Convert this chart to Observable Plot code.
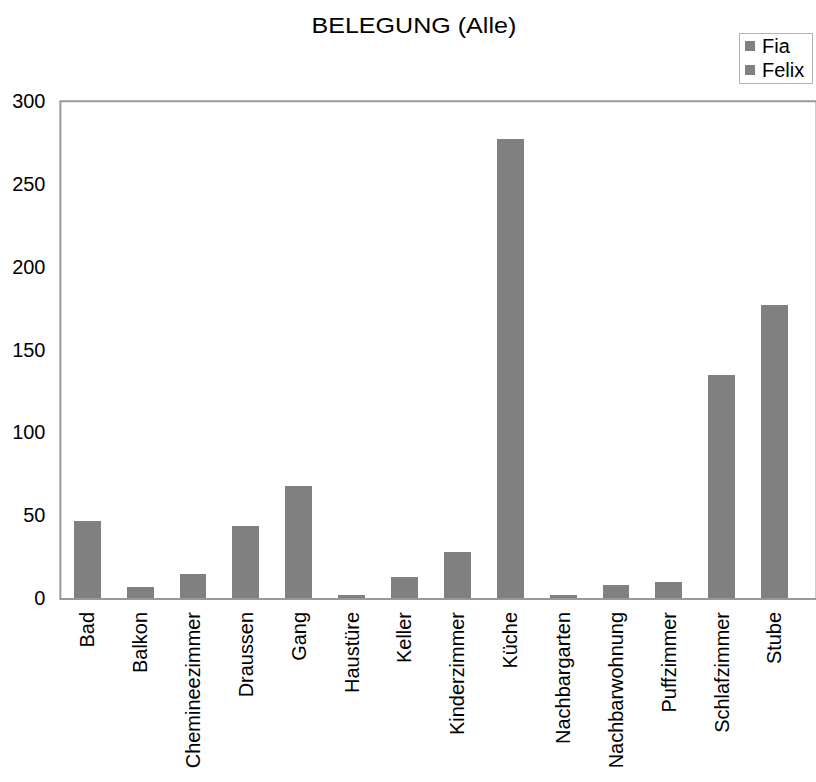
<!DOCTYPE html>
<html>
<head>
<meta charset="utf-8">
<script src="https://cdn.jsdelivr.net/npm/d3@7"></script>
<script src="https://cdn.jsdelivr.net/npm/@observablehq/plot@0.6"></script>
<style>
  html, body { margin: 0; padding: 0; background: #fff; overflow: hidden; }
  #wrap { position: relative; width: 816px; height: 782px; overflow: hidden; font-family: "Liberation Sans", Arial, sans-serif; }
  #title { position: absolute; left: 0; width: 828px; top: 13px; text-align: center; font-size: 22px; color: #000; }
  #title span { display: inline-block; transform: scaleX(1.14); }
  #legend { position: absolute; left: 739px; top: 33px; width: 74px; height: 51px; border: 1px solid #b4b4b4; background: #fff; box-sizing: border-box; }
  .item { position: absolute; left: 5px; font-size: 20px; line-height: 22px; color: #000; white-space: nowrap; }
  .sw { display: inline-block; width: 10px; height: 10px; background: #808080; margin-right: 7px; vertical-align: 2px; }
  #chart { position: absolute; left: 0; top: 0; }
</style>
</head>
<body>
<div id="wrap">
  <div id="chart"></div>
  <div id="title"><span>BELEGUNG (Alle)</span></div>
  <div id="legend"></div>
</div>
<script>
// Rooms and the counts per person (stacked: Fia below, Felix on top)
const rooms = ["Bad", "Balkon", "Chemineezimmer", "Draussen", "Gang", "Haustüre", "Keller",
  "Kinderzimmer", "Küche", "Nachbargarten", "Nachbarwohnung", "Puffzimmer", "Schlafzimmer", "Stube"];
const fia   = [11, 2, 5,  9, 22, 1, 4,  6, 137, 1, 3, 4, 70, 59];
const felix = [36, 5, 10, 35, 46, 1, 9, 22, 140, 1, 5, 6, 65, 118];
const seriesNames = ["Fia", "Felix"];
const yTicks = [0, 50, 100, 150, 200, 250, 300];

const rows = [];
rooms.forEach((room, i) => {
  rows.push({room, person: seriesNames[0], value: fia[i]});
  rows.push({room, person: seriesNames[1], value: felix[i]});
});

const chart = Plot.plot({
  width: 818,
  height: 782,
  marginLeft: 60,
  marginRight: 0,
  marginTop: 101,
  marginBottom: 182,
  style: {fontFamily: "'Liberation Sans', Arial, sans-serif", color: "#000", background: "transparent"},
  x: {domain: rooms, range: [60, 803], paddingInner: 0.5, paddingOuter: 0.25, label: null},
  y: {domain: [0, 300], label: null},
  marks: [
    Plot.barY(rows, {x: "room", y: "value", z: "person", fill: "#808080", order: seriesNames, shapeRendering: "crispEdges"}),
    Plot.frame({stroke: "#999", strokeWidth: 2}),
    Plot.axisY({ticks: yTicks, tickSize: 0, tickPadding: 15, fontSize: 20, label: null}),
    Plot.axisX({tickSize: 0, tickPadding: 13, tickRotate: -90, fontSize: 20, label: null})
  ]
});
document.getElementById("chart").appendChild(chart);

const legend = document.getElementById("legend");
seriesNames.forEach((name, i) => {
  const d = document.createElement("div");
  d.className = "item";
  d.style.top = (1 + i * 24) + "px";
  d.innerHTML = '<span class="sw"></span>' + name;
  legend.appendChild(d);
});
</script>
</body>
</html>
